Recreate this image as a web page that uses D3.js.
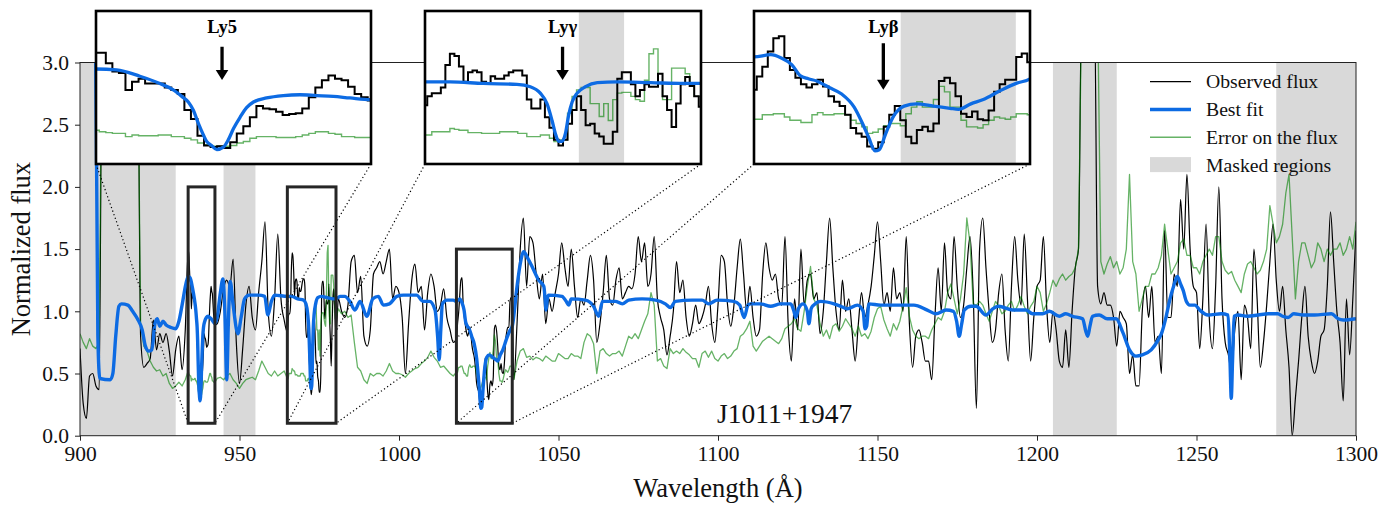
<!DOCTYPE html>
<html><head><meta charset="utf-8">
<script src="https://cdn.jsdelivr.net/npm/d3@7/dist/d3.min.js"></script>
<style>
html,body{margin:0;padding:0;background:#fff;}
svg{display:block;font-family:"Liberation Serif","Times New Roman",serif;}
</style></head><body>
<svg id="chart" width="1399" height="510"></svg>
<script>
// ---------------- DATA ----------------
const waveStart = 900, waveStep = 1;
const obsFlux = [
0.70,0.26,0.14,0.48,0.50,0.40,0.37,3.5,3.5,3.5,
3.5,3.5,3.5,3.5,3.5,3.5,3.5,3.5,3.5,0.8,
0.55,0.58,0.62,0.93,0.69,0.82,0.75,0.82,0.68,0.48,
0.69,0.80,0.53,0.85,1.48,1.07,1.08,0.55,0.33,0.80,
0.72,1.17,0.95,0.90,1.00,1.18,1.25,1.20,1.42,0.75,
0.42,0.70,1.05,1.20,0.95,0.85,1.15,1.40,1.72,1.00,
0.80,1.10,1.62,1.10,0.93,0.83,1.05,1.31,1.24,1.16,
1.26,0.79,0.58,0.60,0.58,0.35,1.24,1.02,1.22,0.85,
0.94,1.10,1.00,0.95,1.05,1.40,1.45,1.15,1.28,0.80,
0.72,0.85,1.30,1.35,1.40,1.30,1.40,1.50,1.10,1.20,
1.15,0.95,0.50,0.90,1.25,1.38,1.15,1.20,0.85,1.15,
1.30,1.20,1.00,1.05,1.18,0.95,0.85,0.75,0.78,1.13,
1.10,0.85,0.85,0.70,0.55,0.35,0.30,0.60,0.32,0.42,
0.87,0.70,0.58,0.58,0.85,1.10,0.45,0.90,1.50,1.75,
1.20,1.60,1.55,1.30,1.10,1.30,0.90,1.10,1.00,1.15,
1.30,1.55,1.35,1.20,1.50,1.20,0.95,1.10,1.05,1.25,
1.45,1.25,0.75,0.90,1.15,1.45,1.10,1.05,1.25,1.35,
1.10,1.15,1.20,1.18,1.30,1.60,1.40,1.55,1.20,1.30,
1.60,1.10,0.95,0.85,0.65,0.80,1.00,1.40,1.15,1.25,
0.95,0.80,0.90,1.05,0.90,0.95,1.05,1.20,0.90,0.75,
1.05,1.45,1.40,1.05,0.88,1.05,1.35,1.58,1.30,1.00,
1.20,0.95,0.80,0.85,1.30,1.55,1.35,1.25,1.30,1.10,
1.05,1.60,0.90,0.60,1.10,0.85,1.50,1.05,1.25,1.30,
1.10,1.15,0.82,1.00,1.40,1.75,1.35,1.00,0.85,1.25,
1.00,1.10,0.85,0.60,0.90,1.15,0.95,1.05,1.20,1.45,
1.72,1.40,1.05,1.15,1.00,1.35,1.10,1.15,1.00,1.60,
0.90,0.55,0.80,0.85,0.75,0.60,0.60,0.45,0.95,1.35,
1.00,1.55,1.15,1.10,1.60,1.20,0.95,1.05,1.35,1.60,
1.15,0.22,1.50,1.75,1.35,1.00,0.75,0.85,1.15,1.30,
0.85,0.60,1.20,1.60,1.25,1.05,1.62,1.10,0.60,0.95,
1.20,1.25,1.60,1.05,0.75,1.00,0.85,0.60,0.55,0.85,
0.55,1.00,1.35,1.50,3.5,3.5,3.5,3.5,3.5,1.20,
1.06,1.15,1.05,1.05,0.95,0.72,1.00,0.95,0.90,0.50,
0.65,0.40,0.40,1.00,1.20,0.95,1.20,0.75,0.80,0.50,
1.65,0.95,0.95,1.30,1.20,1.90,1.50,2.10,1.50,1.20,
1.15,0.70,1.10,1.70,0.95,0.70,1.20,2.00,1.10,0.75,
0.65,0.50,0.85,1.00,0.45,1.05,0.95,0.70,1.50,1.10,
0.55,0.75,1.05,1.40,1.70,1.25,1.00,1.20,0.85,0.55,
0.00,0.30,0.60,0.95,1.20,0.80,0.60,0.50,0.60,0.80,
0.85,1.20,1.80,1.40,1.00,0.75,0.28,1.10,0.65,1.10,
1.65];
const errFlux = [
0.82,0.75,0.70,0.78,0.72,0.70,0.75,3.5,3.5,3.5,
3.5,3.5,3.5,3.5,3.5,3.5,3.5,3.5,3.5,0.90,
0.72,0.68,0.60,0.55,0.52,0.53,0.48,0.50,0.42,0.38,
0.40,0.43,0.40,0.45,0.51,0.45,0.46,0.38,0.32,0.44,
0.43,0.49,0.43,0.46,0.47,0.45,0.48,0.50,0.45,0.42,
0.38,0.42,0.45,0.46,0.47,0.45,0.52,0.60,0.55,0.50,
0.48,0.52,0.48,0.50,0.52,0.46,0.50,0.52,0.49,0.48,
0.50,0.44,0.42,0.73,1.05,0.85,0.99,0.88,1.10,1.29,
0.94,1.02,0.98,1.00,0.95,0.97,0.75,0.55,0.52,0.45,
0.42,0.50,0.48,0.50,0.50,0.48,0.52,0.58,0.52,0.50,
0.50,0.49,0.47,0.50,0.52,0.54,0.55,0.58,0.60,0.63,
0.68,0.63,0.60,0.55,0.56,0.53,0.50,0.48,0.51,0.55,
0.56,0.50,0.57,0.55,0.55,0.44,0.42,0.47,0.60,0.62,
0.80,0.62,0.44,0.48,0.52,0.56,0.45,0.60,0.68,0.70,
0.63,0.64,0.61,0.63,0.62,0.60,0.64,0.62,0.60,0.60,
0.66,0.64,0.62,0.62,0.66,0.64,0.64,0.62,0.75,0.82,
0.80,0.74,0.50,0.68,0.70,0.66,0.64,0.66,0.66,0.68,
0.64,0.72,0.80,0.78,0.82,0.78,0.85,0.92,0.98,1.15,
1.05,0.60,0.62,0.56,0.54,0.70,0.66,0.68,0.66,0.70,
0.67,0.65,0.62,0.62,0.55,0.66,0.68,0.63,0.68,0.62,
0.60,0.64,0.66,0.62,0.64,0.68,0.70,0.80,0.82,0.86,
0.92,0.72,0.68,0.72,0.76,0.78,0.80,0.78,0.76,0.74,
0.78,0.86,0.88,0.90,0.94,0.86,0.84,1.00,1.20,1.36,
1.10,1.05,0.90,0.80,0.85,0.78,0.88,0.90,0.84,0.88,
0.94,0.90,0.86,0.80,0.88,0.80,0.82,0.78,0.84,0.95,
1.02,1.04,0.93,0.86,0.80,0.90,0.85,0.92,1.04,1.19,
0.96,0.85,0.80,0.78,0.80,0.80,0.78,0.85,0.90,0.95,
0.93,1.00,1.15,1.22,1.10,0.98,1.10,1.30,1.75,1.55,
1.06,1.05,1.08,1.05,0.98,0.92,1.00,1.08,1.04,0.98,
1.00,1.05,1.08,1.00,1.05,1.12,1.04,0.98,1.04,1.08,
1.20,1.15,1.00,1.06,1.15,1.25,1.20,1.26,1.30,1.25,
1.28,1.30,1.35,1.50,3.5,3.5,3.5,3.5,3.5,3.5,
1.40,1.30,1.38,1.44,1.35,1.40,1.30,1.35,1.50,2.10,
1.40,1.30,1.00,1.10,1.20,1.20,1.30,1.30,1.35,1.45,
1.70,1.50,1.30,1.35,1.40,1.55,1.58,1.45,1.45,1.35,
1.35,1.30,1.40,1.45,1.50,1.45,1.60,1.60,1.40,1.33,
1.30,1.32,1.25,1.20,1.15,1.30,1.38,1.40,1.35,1.30,
1.33,1.40,1.50,1.85,1.70,1.55,1.60,1.70,1.95,2.10,
1.60,1.10,1.40,1.55,1.55,1.45,1.35,1.40,1.55,1.50,
1.40,1.50,1.45,1.50,1.50,1.55,1.45,1.50,1.60,1.50,
1.72];

// best-fit model, sampled at knots
const fitWave = [
900,904.6,905.6,906.2,909.5,910.3,911.2,912.2,913,915,
916.5,918,919.5,920.5,921.5,922.5,923.5,924.2,925,926,
927,928.5,930,931,932,933.2,933.9,934.53,935.24,935.85,
936.26,936.52,936.72,936.87,937.03,937.18,937.28,937.43,937.59,937.79,
937.94,938.1,938.3,938.5,938.71,939.11,939.62,940.13,940.64,941.15,
941.66,942.29,943,944,944.8,945.4,946,946.5,947.1,948,
949.5,950.5,951.6,953,956,957.9,958.9,960,961,965,
966.39,968.23,970.08,970.82,971.37,971.74,972.02,972.2,972.39,972.57,
972.76,972.94,973.13,973.41,973.87,974.52,975.62,977.47,979.32,980.3,
981.5,983,984.6,986.2,987.8,989.9,991.8,993.5,995.1,997,
999.3,1001.4,1005.5,1007.6,1009.6,1011.3,1012.1,1012.6,1013.1,1013.6,
1015,1017,1018,1019.07,1019.73,1020.39,1020.92,1021.45,1021.97,1022.77,
1023.56,1024.35,1024.88,1025.28,1025.67,1025.94,1026.33,1026.86,1027.52,1028.31,
1029.37,1030.43,1030.96,1031.75,1032.54,1033.6,1034.66,1035.5,1037,1038,
1039.1,1040.3,1041.7,1043.8,1045.4,1045.8,1046.1,1046.5,1046.9,1051.1,
1052.4,1053.2,1054,1058.4,1061,1062.6,1063.8,1067.8,1070,1072,
1076.2,1080.4,1083.5,1085.1,1086.6,1091.9,1095,1097.1,1099.7,1105,
1106.8,1108.2,1109.4,1110.2,1113.3,1116.5,1119.6,1122.8,1123.8,1124.4,
1125.2,1126.7,1128,1128.5,1129.2,1130,1132.2,1136.4,1138.5,1140.5,
1143.7,1145.5,1146.1,1146.6,1147.3,1151,1161.4,1165.6,1168.3,1171.5,
1173.8,1174.8,1175.6,1176.4,1177.2,1179.3,1180.9,1184,1186.1,1188,
1192.4,1196.5,1198.6,1201.8,1203.9,1207,1209,1211.2,1214.3,1215.3,
1215.9,1216.6,1217.4,1219.5,1222,1224.8,1226.9,1229,1231,1233,
1235.8,1238,1239,1240.5,1241.6,1242.8,1244,1245,1245.8,1246.8,
1247.9,1249.5,1251,1253.6,1257.8,1259.9,1260.5,1260.9,1261.3,1261.8,
1263,1266,1269.3,1272.5,1275.5,1277,1278.7,1280.5,1283.5,1287,
1292.3,1294.4,1296,1300];
const fitFlux = [
4.0,4.0,0.8,0.46,0.45,0.5,0.8,1.04,1.06,1.05,
1.0,0.94,0.85,0.72,0.68,0.69,0.9,0.94,0.88,0.92,
0.89,0.87,0.86,0.92,1.05,1.22,1.28,1.27,1.19,1.1,
1.02,0.94,0.87,0.77,0.6,0.46,0.38,0.33,0.28,0.31,
0.4,0.54,0.68,0.8,0.87,0.92,0.95,0.96,0.95,0.94,
0.92,0.9,0.95,1.15,1.26,1.0,0.45,0.9,1.24,1.05,
0.82,0.95,1.1,1.13,1.13,1.12,0.97,1.08,1.13,1.12,
1.12,1.1,1.09,1.06,0.98,0.85,0.64,0.48,0.38,0.38,
0.48,0.71,0.87,0.98,1.06,1.11,1.12,1.11,1.1,1.1,
1.12,1.12,1.08,1.01,1.08,0.96,1.1,1.12,1.05,1.06,
1.12,1.13,1.13,1.08,1.08,1.01,0.8,0.61,0.85,1.06,
1.09,1.09,1.08,1.1,1.07,1.01,0.91,0.88,0.86,0.8,
0.74,0.62,0.47,0.34,0.22,0.23,0.37,0.54,0.63,0.65,
0.63,0.61,0.6,0.65,0.69,0.77,0.84,0.88,1.2,1.38,
1.48,1.43,1.36,1.25,1.2,1.1,1.01,1.1,1.13,1.12,
1.08,1.05,1.1,1.09,1.04,0.96,1.08,1.08,1.06,1.09,
1.1,1.09,1.06,1.03,1.08,1.09,1.09,1.06,1.09,1.08,
1.05,0.95,1.05,1.06,1.06,1.04,1.06,1.06,1.0,0.95,
1.02,1.06,1.0,0.9,1.02,1.05,1.08,1.06,1.04,1.02,
1.05,1.0,0.86,0.88,1.06,1.05,1.05,1.01,0.98,1.01,
1.0,0.92,0.8,0.9,1.01,1.04,1.04,0.97,1.02,1.04,
1.01,1.01,0.98,0.98,1.0,0.96,0.98,0.96,0.94,0.84,
0.8,0.88,0.96,0.97,0.94,0.94,0.83,0.69,0.64,0.65,
0.69,0.77,0.82,0.96,1.09,1.2,1.28,1.22,1.17,1.08,
1.05,1.05,1.01,0.97,0.98,0.97,0.6,0.3,0.6,0.96,
0.97,0.96,0.97,0.98,0.98,0.96,0.95,0.98,0.97,0.97,
0.98,0.94,0.93,0.94];

// fine-resolution spectra inside the three zoomed windows
const ly5Start = 933.9, ly5Step = 0.2;
const ly5Obs = [1.48,1.48,1.35,1.25,1.23,1.02,1.12,1.16,1.10,1.10,1.10,1.05,1.02,0.97,0.77,0.66,0.45,0.33,0.31,0.32,0.30,0.37,0.48,0.57,0.68,0.82,0.79,0.78,0.75,0.71,0.72,0.73,0.79,0.93,1.05,1.14,1.20,1.16,1.14,1.06,0.97,0.93,0.89];
const ly5Err = [0.52,0.50,0.49,0.48,0.48,0.44,0.46,0.45,0.45,0.45,0.46,0.46,0.44,0.44,0.42,0.40,0.36,0.34,0.32,0.32,0.32,0.33,0.36,0.38,0.42,0.44,0.44,0.44,0.43,0.43,0.43,0.44,0.46,0.48,0.50,0.50,0.48,0.47,0.44,0.44,0.43,0.43,0.43];
const lygStart = 965, lygStep = 0.25;
const lygObs = [0.83,0.94,0.98,0.98,1.05,1.33,1.47,1.44,1.31,1.12,1.24,1.26,1.24,1.12,1.10,1.19,1.16,1.16,1.20,1.24,1.26,1.26,1.20,0.90,0.79,0.79,0.90,0.68,0.55,0.40,0.33,0.40,0.60,0.77,0.94,0.77,0.58,0.60,0.48,0.44,0.35,0.35,0.50,1.16,1.24,1.24,1.09,0.94,1.02,1.09,1.06,1.06,1.22,0.94,0.77,0.56,0.85,1.09,1.18,1.07,0.94,0.81];
const lygErr = [0.46,0.46,0.50,0.50,0.50,0.50,0.54,0.53,0.52,0.52,0.49,0.49,0.49,0.48,0.48,0.48,0.48,0.50,0.50,0.50,0.50,0.48,0.48,0.44,0.44,0.44,0.46,0.46,0.42,0.38,0.40,0.40,0.73,0.94,1.02,1.05,1.05,0.85,0.85,0.69,0.85,0.64,0.90,0.98,0.99,0.99,0.94,0.90,0.88,1.14,1.47,1.53,1.10,0.90,0.90,1.29,1.29,1.29,1.22,1.10,0.94,0.94];
const lybStart = 1018, lybStep = 0.35;
const lybObs = [0.78,0.90,0.99,1.13,1.25,1.27,1.07,0.96,0.89,0.83,0.80,0.83,0.87,0.81,0.72,0.67,0.63,0.55,0.43,0.38,0.35,0.26,0.24,0.30,0.44,0.55,0.63,0.50,0.35,0.29,0.41,0.44,0.40,0.47,0.86,0.89,0.84,0.72,0.56,0.53,0.58,0.51,0.50,0.59,0.76,0.83,0.87,0.87,1.08,1.11,1.03];
const lybErr = [0.51,0.51,0.55,0.55,0.56,0.56,0.53,0.50,0.50,0.48,0.48,0.55,0.57,0.55,0.55,0.56,0.56,0.55,0.50,0.47,0.44,0.38,0.39,0.42,0.45,0.47,0.47,0.45,0.56,0.62,0.67,0.62,0.62,0.69,0.81,0.76,0.62,0.62,0.50,0.44,0.44,0.43,0.46,0.50,0.53,0.52,0.51,0.53,0.56,0.56,0.55];

const maskedMain = [[900,930],[945,955],[1205,1225],[1275,1300]];
const insetWindows = [[933.9,942.3],[965,980.25],[1018,1035.5]];
const insetYRange = [[0.1,2.0],[0.1,2.0],[0.1,1.5]];
const insetMasked = [[], [[973.5,976.0]], [[1027.3,1034.6]]];
const lineLabels = ["Ly5","Lyγ","Lyβ"];
const lineWave = [937.75, 972.6, 1026.2];
const arrowFrom = [1.556, 1.556, 1.205];
const arrowTo = [1.143, 1.143, 0.78];
const labelAt = [1.727, 1.727, 1.30];
const xTicks = [900,950,1000,1050,1100,1150,1200,1250,1300];
const yTicks = [0,0.5,1.0,1.5,2.0,2.5,3.0];
const legendLabels = ["Observed flux","Best fit","Error on the flux","Masked regions"];
const objectName = "J1011+1947";
const xLabel = "Wavelength (Å)";
const yLabel = "Normalized flux";

// ---------------- BUILD ----------------
const COL_OBS = "#000000", COL_FIT = "#0d6be3", COL_ERR = "#008000", COL_MASK = "#d9d9d9";
const svg = d3.select("#chart");
const L = 80, R = 1356, T = 62.5, B = 435.7;
const x = d3.scaleLinear().domain([900,1300]).range([L,R]);
const y = d3.scaleLinear().domain([0,3]).range([B,T]);

const inWin = w => insetWindows.some(([a,b]) => w >= a - 1e-9 && w <= b + 1e-9);
const regular = obsFlux.map((v,i)=>({w: waveStart + i*waveStep, obs: v, err: errFlux[i]}));
const fine = [];
[[ly5Start,ly5Step,ly5Obs,ly5Err],[lygStart,lygStep,lygObs,lygErr],[lybStart,lybStep,lybObs,lybErr]]
  .forEach(([s,st,o,e]) => o.forEach((v,i)=>fine.push({w: s + i*st, obs: v, err: e[i]})));
const spec = regular.filter(d=>!inWin(d.w)).concat(fine).sort((a,b)=>a.w-b.w);
const fit = fitWave.map((w,i)=>({w, f: fitFlux[i]}));

const defs = svg.append("defs");
defs.append("clipPath").attr("id","mainClip").append("rect")
  .attr("x",L).attr("y",T).attr("width",R-L).attr("height",B-T);

const main = svg.append("g");
main.selectAll("rect.mask").data(maskedMain).join("rect").attr("class","mask")
  .attr("x",d=>x(d[0])).attr("width",d=>x(d[1])-x(d[0]))
  .attr("y",T).attr("height",B-T).attr("fill",COL_MASK);

const plotG = main.append("g").attr("clip-path","url(#mainClip)");
plotG.append("path").datum(spec)
  .attr("d", d3.line().x(d=>x(d.w)).y(d=>y(d.obs)).curve(d3.curveMonotoneX))
  .attr("fill","none").attr("stroke",COL_OBS).attr("stroke-width",1.2).attr("stroke-linejoin","round");
plotG.append("path").datum(spec)
  .attr("d", d3.line().x(d=>x(d.w)).y(d=>y(d.err)))
  .attr("fill","none").attr("stroke",COL_ERR).attr("stroke-opacity",0.6).attr("stroke-width",1.3).attr("stroke-linejoin","round");
plotG.append("path").datum(fit)
  .attr("d", d3.line().x(d=>x(d.w)).y(d=>y(d.f)).curve(d3.curveMonotoneX))
  .attr("fill","none").attr("stroke",COL_FIT).attr("stroke-width",3.4).attr("stroke-linejoin","round");

// axes
const axisFont = "21.5px";
const xAxis = svg.append("g").attr("transform",`translate(0,${B})`)
  .call(d3.axisBottom(x).tickValues(xTicks).tickFormat(d3.format("d")).tickSize(5).tickSizeOuter(0).tickPadding(5));
const yAxis = svg.append("g").attr("transform",`translate(${L},0)`)
  .call(d3.axisLeft(y).tickValues(yTicks).tickFormat(d3.format(".1f")).tickSize(5).tickSizeOuter(0).tickPadding(6));
[xAxis,yAxis].forEach(g=>{
  g.select(".domain").remove();
  g.selectAll(".tick line").attr("stroke","#222").attr("stroke-width",1);
  g.selectAll(".tick text").attr("fill","#111").style("font-size",axisFont)
    .style("font-family",'"Liberation Serif","Times New Roman",serif');
});
svg.append("rect").attr("x",L).attr("y",T).attr("width",R-L).attr("height",B-T)
  .attr("fill","none").attr("stroke","#222").attr("stroke-width",1);

svg.append("text").attr("x",(L+R)/2).attr("y",497).attr("text-anchor","middle")
  .style("font-size","26.5px").attr("fill","#111").text(xLabel);
svg.append("text").attr("transform",`translate(30,${(T+B)/2}) rotate(-90)`).attr("text-anchor","middle")
  .style("font-size","26.5px").attr("fill","#111").text(yLabel);
svg.append("text").attr("x",717).attr("y",423).style("font-size","27.5px").attr("fill","#111").text(objectName);

// zoom boxes + connectors
const insetRects = [{x:96,y:11,w:275,h:153},{x:425,y:11,w:276,h:153},{x:754,y:11,w:276,h:153}];
insetWindows.forEach((win,k)=>{
  const yr = insetYRange[k];
  const bx0 = x(win[0]), bx1 = x(win[1]), by0 = y(yr[1]), by1 = y(yr[0]);
  const r = insetRects[k];
  svg.append("line").attr("x1",r.x).attr("y1",r.y+r.h).attr("x2",bx0).attr("y2",by1)
    .attr("stroke","#000").attr("stroke-width",1.2).attr("stroke-dasharray","1.2,2.6");
  svg.append("line").attr("x1",r.x+r.w).attr("y1",r.y+r.h).attr("x2",bx1).attr("y2",by1)
    .attr("stroke","#000").attr("stroke-width",1.2).attr("stroke-dasharray","1.2,2.6");
  svg.append("rect").attr("x",bx0).attr("y",by0).attr("width",bx1-bx0).attr("height",by1-by0)
    .attr("fill","none").attr("stroke","#262626").attr("stroke-width",3);
});

// insets
insetWindows.forEach((win,k)=>{
  const r = insetRects[k];
  const yr = insetYRange[k];
  const ix = d3.scaleLinear().domain(win).range([r.x, r.x+r.w]);
  const iy = d3.scaleLinear().domain(yr).range([r.y+r.h, r.y]);
  const g = svg.append("g");
  defs.append("clipPath").attr("id","ic"+k).append("rect")
    .attr("x",r.x).attr("y",r.y).attr("width",r.w).attr("height",r.h);
  g.append("rect").attr("x",r.x).attr("y",r.y).attr("width",r.w).attr("height",r.h).attr("fill","#fff");
  const cg = g.append("g").attr("clip-path",`url(#ic${k})`);
  cg.selectAll("rect.im").data(insetMasked[k]).join("rect").attr("class","im")
    .attr("x",d=>ix(d[0])).attr("width",d=>ix(d[1])-ix(d[0]))
    .attr("y",r.y).attr("height",r.h).attr("fill",COL_MASK);
  const sub = spec.filter(d=>d.w >= win[0]-1.5 && d.w <= win[1]+1.5);
  cg.append("path").datum(sub)
    .attr("d", d3.line().x(d=>ix(d.w)).y(d=>iy(d.err)).curve(d3.curveStep))
    .attr("fill","none").attr("stroke",COL_ERR).attr("stroke-opacity",0.6).attr("stroke-width",1.4);
  cg.append("path").datum(sub)
    .attr("d", d3.line().x(d=>ix(d.w)).y(d=>iy(d.obs)).curve(d3.curveStep))
    .attr("fill","none").attr("stroke",COL_OBS).attr("stroke-width",2);
  const fsub = fit.filter(d=>d.w >= win[0]-3 && d.w <= win[1]+3);
  cg.append("path").datum(fsub)
    .attr("d", d3.line().x(d=>ix(d.w)).y(d=>iy(d.f)).curve(d3.curveMonotoneX))
    .attr("fill","none").attr("stroke",COL_FIT).attr("stroke-width",3.3);
  // arrow + label
  const ax = ix(lineWave[k]), ay0 = iy(arrowFrom[k]), ay1 = iy(arrowTo[k]);
  const headL = 10, headW = 6.3;
  g.append("line").attr("x1",ax).attr("x2",ax).attr("y1",ay0).attr("y2",ay1-headL+1)
    .attr("stroke","#000").attr("stroke-width",3.3);
  g.append("path").attr("d",`M${ax-headW},${ay1-headL}L${ax+headW},${ay1-headL}L${ax},${ay1}Z`).attr("fill","#000");
  g.append("text").attr("x",ax).attr("y",iy(labelAt[k])).attr("text-anchor","middle")
    .style("font-size","18.5px").style("font-weight","bold").attr("fill","#000").text(lineLabels[k]);
  g.append("rect").attr("x",r.x).attr("y",r.y).attr("width",r.w).attr("height",r.h)
    .attr("fill","none").attr("stroke","#000").attr("stroke-width",2.6);
});

// legend
const lg = svg.append("g");
const lx0 = 1150, lx1 = 1191, ltx = 1206, ly0 = 81.7, ldy = 27.8;
legendLabels.forEach((lab,i)=>{
  const cy = ly0 + i*ldy;
  if (i===0) lg.append("line").attr("x1",lx0).attr("x2",lx1).attr("y1",cy).attr("y2",cy).attr("stroke",COL_OBS).attr("stroke-width",1.3);
  if (i===1) lg.append("line").attr("x1",lx0).attr("x2",lx1).attr("y1",cy).attr("y2",cy).attr("stroke",COL_FIT).attr("stroke-width",3.4);
  if (i===2) lg.append("line").attr("x1",lx0).attr("x2",lx1).attr("y1",cy).attr("y2",cy).attr("stroke",COL_ERR).attr("stroke-opacity",0.6).attr("stroke-width",1.4);
  if (i===3) lg.append("rect").attr("x",lx0).attr("y",cy-8).attr("width",lx1-lx0).attr("height",15).attr("fill",COL_MASK);
  lg.append("text").attr("x",ltx).attr("y",cy+6.5).style("font-size","19.7px").attr("fill","#111").text(lab);
});
</script>
</body></html>
